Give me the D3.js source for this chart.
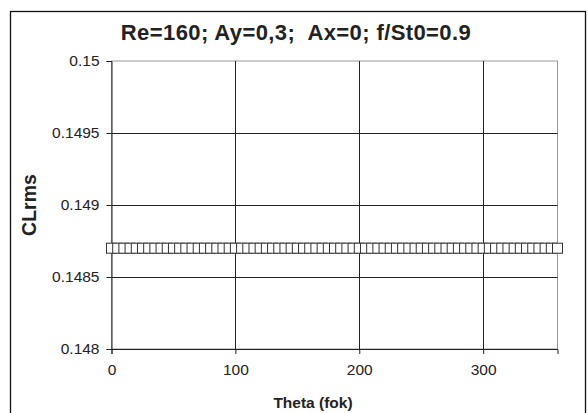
<!DOCTYPE html>
<html lang="en">
<head>
<meta charset="UTF-8">
<title>CLrms vs Theta</title>
<script src="https://d3js.org/d3.v7.min.js"></script>
<style>
    body { margin: 0; background: #fff; }
    svg text { font-family: "Liberation Sans", Arial, sans-serif; fill: #222; }
</style>
</head>
<body>
<svg width="588" height="413"></svg>
<script>
    // chart values
    var titleText = "Re=160; Ay=0,3;  Ax=0; f/St0=0.9";
    var thetaDeg = [0, 5, 10, 15, 20, 25, 30, 35, 40, 45, 50, 55, 60, 65, 70, 75, 80, 85, 90, 95,
        100, 105, 110, 115, 120, 125, 130, 135, 140, 145, 150, 155, 160, 165, 170, 175, 180, 185, 190, 195,
        200, 205, 210, 215, 220, 225, 230, 235, 240, 245, 250, 255, 260, 265, 270, 275, 280, 285, 290, 295,
        300, 305, 310, 315, 320, 325, 330, 335, 340, 345, 350, 355, 360];
    var clrms = [0.1487, 0.1487, 0.1487, 0.1487, 0.1487, 0.1487, 0.1487, 0.1487, 0.1487, 0.1487,
        0.1487, 0.1487, 0.1487, 0.1487, 0.1487, 0.1487, 0.1487, 0.1487, 0.1487, 0.1487,
        0.1487, 0.1487, 0.1487, 0.1487, 0.1487, 0.1487, 0.1487, 0.1487, 0.1487, 0.1487,
        0.1487, 0.1487, 0.1487, 0.1487, 0.1487, 0.1487, 0.1487, 0.1487, 0.1487, 0.1487,
        0.1487, 0.1487, 0.1487, 0.1487, 0.1487, 0.1487, 0.1487, 0.1487, 0.1487, 0.1487,
        0.1487, 0.1487, 0.1487, 0.1487, 0.1487, 0.1487, 0.1487, 0.1487, 0.1487, 0.1487,
        0.1487, 0.1487, 0.1487, 0.1487, 0.1487, 0.1487, 0.1487, 0.1487, 0.1487, 0.1487,
        0.1487, 0.1487, 0.1487];
    var xTicks = [0, 100, 200, 300];
    var yTicks = [0.148, 0.1485, 0.149, 0.1495, 0.15];

    var svg = d3.select("svg");
    var plot = { left: 111.5, right: 557.5, top: 61, bottom: 349 };

    var x = d3.scaleLinear().domain([0, 360]).range([plot.left, plot.right]);
    var y = d3.scaleLinear().domain([0.148, 0.15]).range([plot.bottom, plot.top]);

    // outer frame
    svg.append("rect")
        .attr("x", 10.5).attr("y", 11.5)
        .attr("width", 575).attr("height", 420)
        .attr("fill", "none").attr("stroke", "#111").attr("stroke-width", 1.3);

    // plot border (grey)
    svg.append("rect")
        .attr("x", plot.left).attr("y", plot.top)
        .attr("width", plot.right - plot.left).attr("height", plot.bottom - plot.top)
        .attr("fill", "#fff").attr("stroke", "#999");

    // grid
    svg.append("g").selectAll("line")
        .data(yTicks.slice(1, -1))
        .join("line")
        .attr("x1", plot.left).attr("x2", plot.right)
        .attr("y1", d => Math.round(y(d)) + 0.5).attr("y2", d => Math.round(y(d)) + 0.5)
        .attr("stroke", "#222");
    svg.append("g").selectAll("line")
        .data(xTicks.slice(1))
        .join("line")
        .attr("x1", d => Math.round(x(d)) + 0.5).attr("x2", d => Math.round(x(d)) + 0.5)
        .attr("y1", plot.top).attr("y2", plot.bottom)
        .attr("stroke", "#222");

    // axes
    var xAxis = svg.append("g")
        .attr("transform", "translate(0," + plot.bottom + ")")
        .call(d3.axisBottom(x).tickValues(xTicks).tickFormat(d3.format("d")).tickSizeOuter(0).tickSize(5).tickPadding(12));
    var yAxis = svg.append("g")
        .attr("transform", "translate(" + plot.left + ",0)")
        .call(d3.axisLeft(y).tickValues(yTicks).tickFormat(d => String(d)).tickSizeOuter(0).tickSize(5).tickPadding(7));
    [xAxis, yAxis].forEach(a => {
        a.attr("font-size", null).attr("font-family", null);
        a.select(".domain").attr("stroke", "#222");
        a.selectAll(".tick line").attr("stroke", "#222");
        a.selectAll(".tick text").attr("fill", "#222").style("font-size", "15.5px");
    });
    xAxis.selectAll(".tick text").attr("dy", "0.6em");

    // markers
    svg.append("g").selectAll("rect")
        .data(thetaDeg.map((t, i) => [t, clrms[i]]))
        .join("rect")
        .attr("x", d => x(d[0]) - 5)
        .attr("y", d => y(d[1]) - 5)
        .attr("width", 10).attr("height", 10)
        .attr("fill", "#fff").attr("stroke", "#333").attr("stroke-width", 1);

    // title and labels
    svg.append("text")
        .attr("x", 296).attr("y", 40)
        .attr("text-anchor", "middle")
        .style("font-size", "22px").style("font-weight", "bold").style("letter-spacing", "0.4px")
        .style("white-space", "pre")
        .text(titleText);
    svg.append("text")
        .attr("transform", "translate(35.5,205) rotate(-90)")
        .attr("text-anchor", "middle")
        .style("font-size", "19.5px").style("font-weight", "bold")
        .text("CLrms");
    svg.append("text")
        .attr("x", 313).attr("y", 407.5)
        .attr("text-anchor", "middle")
        .style("font-size", "15.5px").style("font-weight", "bold")
        .text("Theta (fok)");
</script>
</body>
</html>
